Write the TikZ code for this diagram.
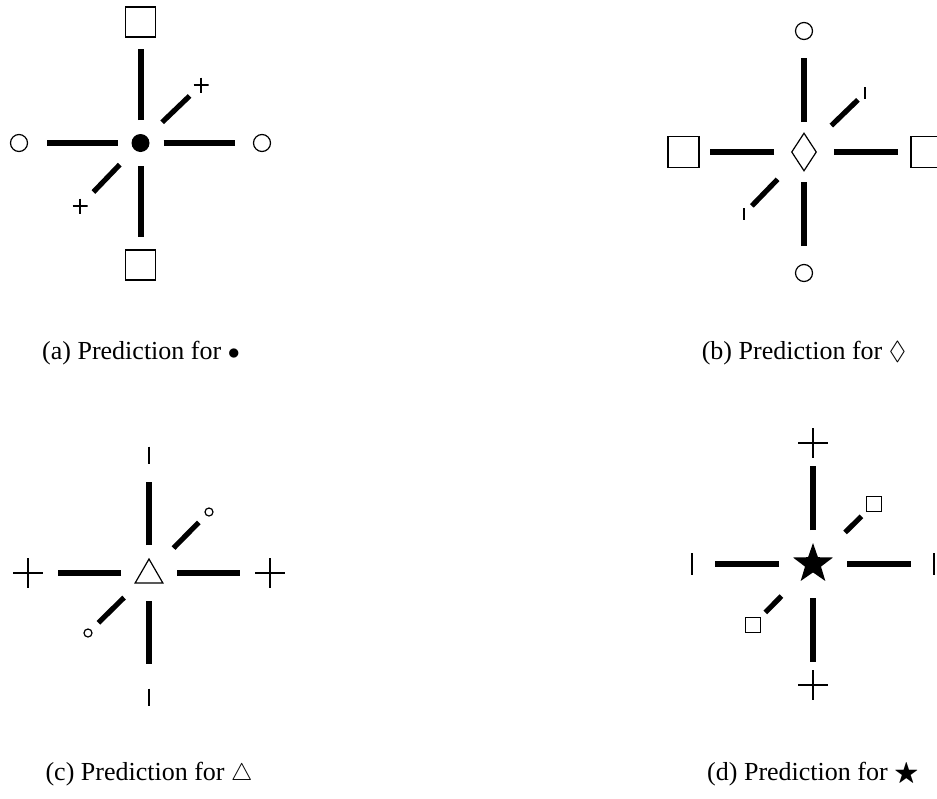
\documentclass[tikz,border=0pt]{standalone}
\usepackage{amssymb}
\usepackage{fontspec}
\setmainfont{Liberation Serif}
\usetikzlibrary{calc,shapes.geometric}

\begin{document}
\begin{tikzpicture}[x=0.5pt, y=-0.5pt,
        bar/.style={line width=3pt},
        diag/.style={line width=2.6pt},
        mk/.style={draw, line width=0.6pt, inner sep=0pt},
        sq/.style={mk, rectangle, minimum size=#1},
        circ/.style={mk, circle, minimum size=#1},
        plusmark/.style={inner sep=0pt, minimum size=#1, path picture={\draw[line width=0.6pt] (path picture bounding box.north) -- (path picture bounding box.south) (path picture bounding box.west) -- (path picture bounding box.east);}},
        tick/.style={inner sep=0pt, minimum width=1pt, minimum height=#1, path picture={\draw[line width=0.6pt] (path picture bounding box.north) -- (path picture bounding box.south);}},
        caption/.style={font=\fontsize{13}{15}\selectfont}]
        \useasboundingbox (0,0) rectangle (937,798);

        % (a)
        \node[circle, fill, inner sep=0pt, minimum size=9pt] (dot) at (140.5,143) {};
        \node[sq=15pt] (dotN) at (140.5,22) {};
        \node[sq=15pt] (dotS) at (140.5,265) {};
        \node[circ=8.5pt] (dotW) at (19,143) {};
        \node[circ=8.5pt] (dotE) at (262,143) {};
        \node[plusmark=7.5pt] (dotNE) at (201,85) {};
        \node[plusmark=7.5pt] (dotSW) at (80,206) {};
        \foreach \m in {dotN,dotS,dotW,dotE}
            \draw[bar] ($(dot)!11.5pt!(\m)$) -- ($(dot)!47pt!(\m)$);
        \foreach \m in {dotNE,dotSW}
            \draw[diag] ($(dot)!15pt!(\m)$) -- ($(dot)!34pt!(\m)$);
        \node[caption] (capA) at (141,353) {(a) Prediction for $\bullet$};

        % (b)
        \node[mk, diamond, minimum width=12.5pt, minimum height=19pt] (diam) at (804,152) {};
        \node[circ=8.5pt] (diamN) at (804,31) {};
        \node[circ=8.5pt] (diamS) at (804,273) {};
        \node[sq=15.5pt] (diamW) at (683.5,152) {};
        \node[sq=15.5pt] (diamE) at (926.5,152) {};
        \node[tick=6pt] (diamNE) at (865,93) {};
        \node[tick=6pt] (diamSW) at (744,214) {};
        \foreach \m in {diamN,diamS,diamW,diamE}
            \draw[bar] ($(diam)!15pt!(\m)$) -- ($(diam)!47pt!(\m)$);
        \foreach \m in {diamNE,diamSW}
            \draw[diag] ($(diam)!19pt!(\m)$) -- ($(diam)!37.5pt!(\m)$);
        \node[caption] (capB) at (804,353) {(b) Prediction for $\Diamond$};

        % (c)
        \coordinate (triC) at (149,573);
        \node[mk, regular polygon, regular polygon sides=3, minimum size=16pt] (tri) at (149,575) {};
        \node[tick=8.5pt] (triN) at (149,455) {};
        \node[tick=8.5pt] (triS) at (149,697) {};
        \node[plusmark=15pt] (triW) at (28,573) {};
        \node[plusmark=15pt] (triE) at (270,573) {};
        \node[circ=4pt] (triNE) at (209,512) {};
        \node[circ=4pt] (triSW) at (88,633) {};
        \foreach \m in {triN,triS,triW,triE}
            \draw[bar] ($(triC)!14pt!(\m)$) -- ($(triC)!45.5pt!(\m)$);
        \foreach \m in {triNE,triSW}
            \draw[diag] ($(triC)!17.5pt!(\m)$) -- ($(triC)!35.5pt!(\m)$);
        \node[caption] (capC) at (149,774) {(c) Prediction for $\triangle$};

        % (d)
        \node[star, star points=5, star point ratio=2.5, fill, inner sep=0pt, minimum size=21pt] (star) at (813,564) {};
        \node[plusmark=15pt] (starN) at (813,443) {};
        \node[plusmark=15pt] (starS) at (813,685) {};
        \node[tick=11pt] (starW) at (692,564) {};
        \node[tick=11pt] (starE) at (934,564) {};
        \node[sq=7.5pt] (starNE) at (874,504) {};
        \node[sq=7.5pt] (starSW) at (753,625) {};
        \foreach \m in {starN,starS,starW,starE}
            \draw[bar] ($(star)!17pt!(\m)$) -- ($(star)!49pt!(\m)$);
        \foreach \m in {starNE,starSW}
            \draw[diag] ($(star)!22.5pt!(\m)$) -- ($(star)!34pt!(\m)$);
        \node[caption] (capD) at (813,774) {(d) Prediction for $\bigstar$};
\end{tikzpicture}
\end{document}
